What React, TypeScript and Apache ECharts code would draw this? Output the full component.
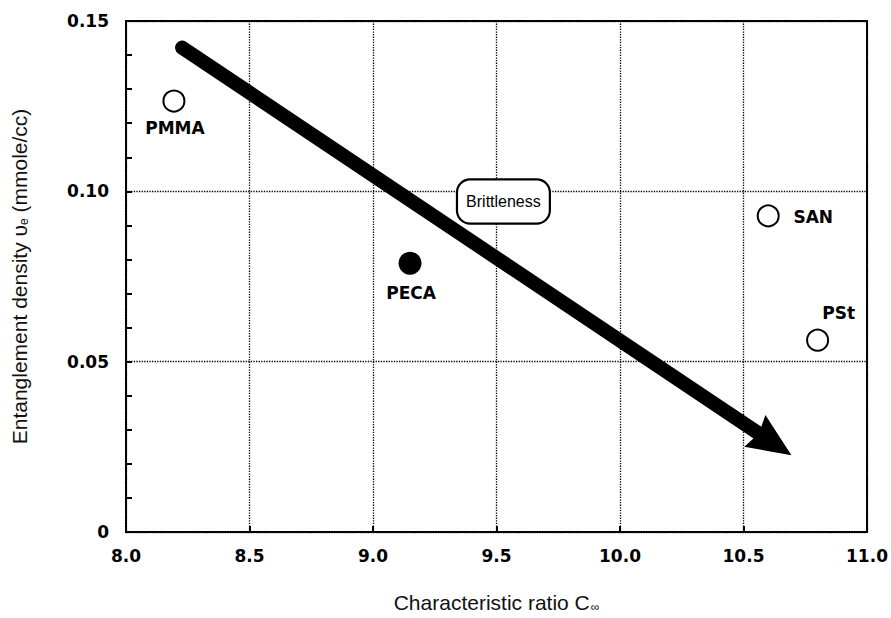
import React, { useEffect, useRef } from "react";
import * as echarts from "echarts";

const xTicks = [8.0, 8.5, 9.0, 9.5, 10.0, 10.5, 11.0];
const yTicks = [0, 0.05, 0.1, 0.15];
const openNames = ["PMMA", "SAN", "PSt"];
const openX = [8.194, 10.6, 10.8];
const openY = [0.1265, 0.0928, 0.0563];
const filledNames = ["PECA"];
const filledX = [9.15];
const filledY = [0.0789];
const arrowStart = [8.227, 0.1422];
const arrowEnd = [10.62, 0.0261];
const noteText = "Brittleness";
const notePos = [9.528, 0.097];

const labelOffsets: Record<string, number[]> = {
  PMMA: [1, 27],
  PECA: [1, 30],
  SAN: [45, 1],
  PSt: [21, -27],
};

const boldFont = "DejaVu Sans";
const nameFont = "Liberation Sans";

export default function App() {
  const ref = useRef<HTMLDivElement>(null);
  useEffect(() => {
    document.body.style.margin = "0";
    const chart = echarts.init(ref.current!, null, { renderer: "svg" });
    const pointLabel = (name: string) => ({
      show: true,
      position: "inside",
      offset: labelOffsets[name],
      formatter: name,
      fontFamily: boldFont,
      fontWeight: "bold",
      fontSize: 17,
      color: "#000",
    });
    const openData = openNames.map((n, i) => ({
      name: n,
      value: [openX[i], openY[i]],
      label: pointLabel(n),
    }));
    const filledData = filledNames.map((n, i) => ({
      name: n,
      value: [filledX[i], filledY[i]],
      label: pointLabel(n),
    }));
    chart.setOption({
      animation: false,
      backgroundColor: "#fff",
      grid: {
        left: 126,
        right: 24,
        top: 21,
        bottom: 80,
        show: true,
        borderColor: "#000",
        borderWidth: 2,
      },
      xAxis: {
        type: "value",
        min: xTicks[0],
        max: xTicks[xTicks.length - 1],
        interval: 0.5,
        name: "Characteristic ratio C{sub|∞}",
        nameLocation: "middle",
        nameGap: 59,
        nameTextStyle: {
          fontFamily: nameFont,
          fontSize: 21,
          color: "#111",
          rich: {
            sub: { fontFamily: nameFont, fontSize: 12, verticalAlign: "bottom", padding: [10, 0, 0, 1] },
          },
        },
        axisLine: { lineStyle: { color: "#000", width: 2 } },
        axisTick: { inside: true, length: 6, lineStyle: { color: "#000", width: 2 } },
        axisLabel: {
          margin: 15,
          fontFamily: boldFont,
          fontWeight: "bold",
          fontSize: 17,
          color: "#000",
          formatter: (v: number) => v.toFixed(1),
        },
        splitLine: { show: true, lineStyle: { color: "#000", width: 1.3, type: "dotted" } },
      },
      yAxis: {
        type: "value",
        min: yTicks[0],
        max: yTicks[yTicks.length - 1],
        interval: 0.05,
        name: "Entanglement density υ{sub|e} (mmole/cc)",
        nameLocation: "middle",
        nameGap: 96,
        nameTextStyle: {
          fontFamily: nameFont,
          fontSize: 21,
          color: "#111",
          rich: {
            sub: { fontFamily: nameFont, fontSize: 12, verticalAlign: "bottom", padding: [10, 0, 0, 0] },
          },
        },
        axisLine: { lineStyle: { color: "#000", width: 2 } },
        axisTick: { inside: true, length: 6, lineStyle: { color: "#000", width: 2 } },
        minorTick: { show: true, splitNumber: 5, length: 6, lineStyle: { color: "#000", width: 2 } },
        axisLabel: {
          margin: 17,
          fontFamily: boldFont,
          fontWeight: "bold",
          fontSize: 17,
          color: "#000",
          formatter: (v: number) => (v === 0 ? "0" : v.toFixed(2)),
        },
        splitLine: { show: true, lineStyle: { color: "#000", width: 1.3, type: "dotted" } },
      },
      series: [
        {
          type: "scatter",
          name: "arrow",
          data: [],
          silent: true,
          markLine: {
            silent: true,
            animation: false,
            label: { show: false },
            lineStyle: { color: "#000", width: 14, type: "solid", cap: "round", opacity: 1 },
            emphasis: { disabled: true },
            data: [
              [
                { coord: arrowStart, symbol: "none", symbolSize: 0 },
                {
                  coord: arrowEnd,
                  symbol: "path://M20,0 L40,46 L20,41 L0,46 Z",
                  symbolSize: [38, 44],
                },
              ],
            ],
          },
        },
        {
          type: "scatter",
          name: "open",
          symbol: "circle",
          symbolSize: 21,
          itemStyle: { color: "#fff", borderColor: "#000", borderWidth: 2, opacity: 1 },
          data: openData,
          z: 5,
        },
        {
          type: "scatter",
          name: "filled",
          symbol: "circle",
          symbolSize: 23,
          itemStyle: { color: "#000", opacity: 1 },
          data: filledData,
          z: 5,
        },
        {
          type: "scatter",
          name: "note",
          symbolSize: 0,
          silent: true,
          itemStyle: { opacity: 1 },
          data: [{ value: notePos }],
          label: {
            show: true,
            position: "inside",
            formatter: noteText,
            fontFamily: nameFont,
            fontSize: 16,
            color: "#000",
            backgroundColor: "#fff",
            borderColor: "#000",
            borderWidth: 2.2,
            borderRadius: 12,
            padding: [13, 8, 13, 8],
          },
          z: 6,
        },
      ],
    });
    return () => chart.dispose();
  }, []);
  return <div ref={ref} style={{ width: 891, height: 618 }} />;
}
